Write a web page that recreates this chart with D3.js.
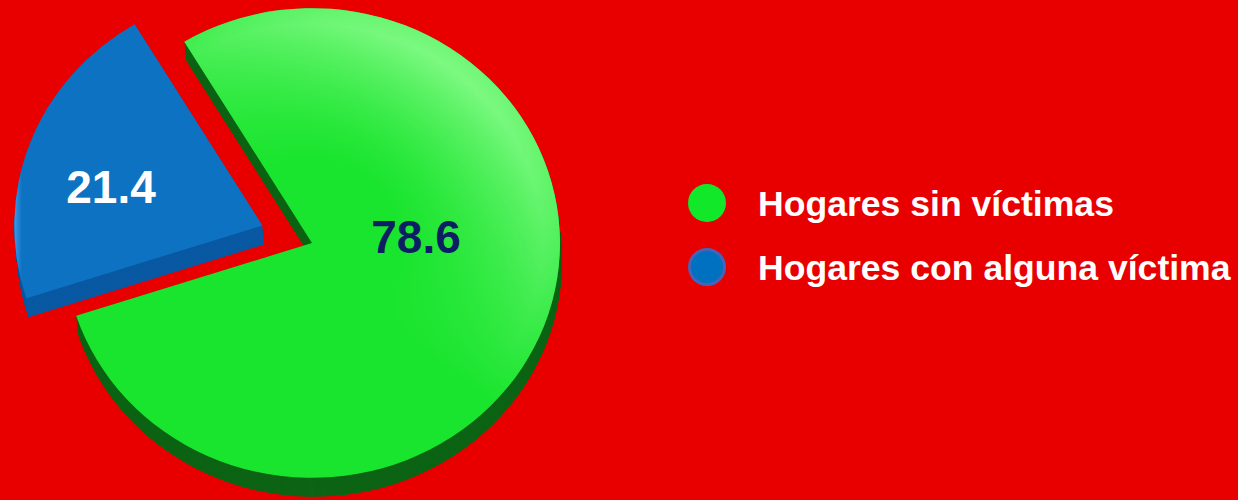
<!DOCTYPE html>
<html>
<head>
<meta charset="utf-8">
<script src="https://cdn.jsdelivr.net/npm/d3@7"></script>
<style>
  html, body { margin: 0; padding: 0; background: #e80000; }
  svg { display: block; }
  text { font-family: "Liberation Sans", Arial, sans-serif; font-weight: bold; }
</style>
</head>
<body>
<svg id="chart" width="1238" height="500"></svg>
<script>
// Share of households (%)
const categories = ["Hogares sin víctimas", "Hogares con alguna víctima"];
const values = [78.6, 21.4];
const valueLabels = ["78.6", "21.4"];

const topColors = ["#1ae52e", "#0e72c2"];
const sideColors = ["#0d6415", "#0a59a3"];
const legendColors = ["#12e82a", "#0070c0"];
const labelColors = ["#0c1f63", "#ffffff"];

const W = 1238, H = 500;
const cx = 312, cy = 243;
const R = 248;           // radius of the pie top
const tilt = 0.947;      // vertical squash of the tilted disc
const depth = 19;        // thickness of the disc
const depthDx = 2;
const explode = [0, 53]; // pull-out distance per slice
const startDeg = -31;
// label anchor positions relative to pie centre
const labelPos = [[104, 10], [-201, -40]];

const svg = d3.select("#chart");

svg.append("rect").attr("width", W).attr("height", H).attr("fill", "#e80000");

const defs = svg.append("defs");

// rim glow on the large slice (circle space, before squash)
const rim = defs.append("radialGradient")
  .attr("id", "rimGlow")
  .attr("gradientUnits", "userSpaceOnUse")
  .attr("cx", 0).attr("cy", 0).attr("r", R);
[[0, 0], [0.35, 0], [0.7, 0.5], [0.93, 0.8], [1, 0.65]].forEach(([o, a]) =>
  rim.append("stop").attr("offset", o).attr("stop-color", "#9cff9c").attr("stop-opacity", a));

// restricts the glow to the upper-right side
const dirGrad = defs.append("linearGradient")
  .attr("id", "glowDir")
  .attr("gradientUnits", "userSpaceOnUse")
  .attr("x1", -50).attr("y1", 150).attr("x2", 200).attr("y2", -180);
dirGrad.append("stop").attr("offset", 0.3).attr("stop-color", "#000");
dirGrad.append("stop").attr("offset", 0.95).attr("stop-color", "#fff");
defs.append("mask")
  .attr("id", "glowMask")
  .attr("maskUnits", "userSpaceOnUse")
  .attr("maskContentUnits", "userSpaceOnUse")
  .attr("x", -300).attr("y", -300).attr("width", 600).attr("height", 600)
  .append("rect")
  .attr("x", -300).attr("y", -300).attr("width", 600).attr("height", 600)
  .attr("fill", "url(#glowDir)");

const blueRim = defs.append("linearGradient")
  .attr("id", "blueRim").attr("x1", "0").attr("x2", "1").attr("y1", "0").attr("y2", "0");
blueRim.append("stop").attr("offset", "0%").attr("stop-color", "#3d97e8");
blueRim.append("stop").attr("offset", "3%").attr("stop-color", "#0e72c2");
blueRim.append("stop").attr("offset", "100%").attr("stop-color", "#0e72c2");

const pie = d3.pie().sort(null)
  .startAngle(startDeg * Math.PI / 180)
  .endAngle((startDeg + 360) * Math.PI / 180);
const arcs = pie(values);

const arc = d3.arc().innerRadius(0).outerRadius(R);

const root = svg.append("g").attr("transform", `translate(${cx},${cy})`);

function offsetOf(d, i) {
  const mid = (d.startAngle + d.endAngle) / 2;
  const e = explode[i];
  return [Math.sin(mid) * e, -Math.cos(mid) * e * tilt];
}

const slices = root.selectAll("g.slice")
  .data(arcs)
  .join("g")
  .attr("class", "slice")
  .attr("transform", (d, i) => {
    const [ox, oy] = offsetOf(d, i);
    return `translate(${ox},${oy})`;
  });

// side walls: stacked copies of the slice shape
const steps = d3.range(depth, 0, -0.5);
slices.each(function(d, i) {
  const g = d3.select(this);
  g.selectAll("path.side")
    .data(steps)
    .join("path")
    .attr("class", "side")
    .attr("d", arc(d))
    .attr("fill", sideColors[i])
    .attr("transform", s => `translate(${depthDx * s / depth},${s}) scale(1,${tilt})`);
});

// top faces
slices.append("path")
  .attr("class", "top")
  .attr("d", d => arc(d))
  .attr("fill", (d, i) => i === 1 ? "url(#blueRim)" : topColors[i])
  .attr("transform", `scale(1,${tilt})`);

// soft glow on the large slice
slices.filter((d, i) => i === 0)
  .append("path")
  .attr("d", d => arc(d))
  .attr("fill", "url(#rimGlow)")
  .attr("mask", "url(#glowMask)")
  .attr("transform", `scale(1,${tilt})`);

// value labels
slices.append("text")
  .attr("x", (d, i) => labelPos[i][0] - offsetOf(d, i)[0])
  .attr("y", (d, i) => labelPos[i][1] - offsetOf(d, i)[1])
  .attr("text-anchor", "middle")
  .attr("font-size", 46)
  .attr("fill", (d, i) => labelColors[i])
  .text((d, i) => valueLabels[i]);

// legend
const legend = svg.append("g").attr("transform", "translate(707,203)");
const item = legend.selectAll("g")
  .data(categories)
  .join("g")
  .attr("transform", (d, i) => `translate(0,${i * 64})`);
item.append("circle")
  .attr("r", (d, i) => i === 1 ? 17.5 : 19)
  .attr("fill", (d, i) => legendColors[i])
  .attr("stroke", (d, i) => i === 1 ? "#4763b5" : "none")
  .attr("stroke-width", 3);
item.append("text")
  .attr("x", 51)
  .attr("y", 13)
  .attr("font-size", 35.6)
  .attr("fill", "#ffffff")
  .text(d => d);
</script>
</body>
</html>
